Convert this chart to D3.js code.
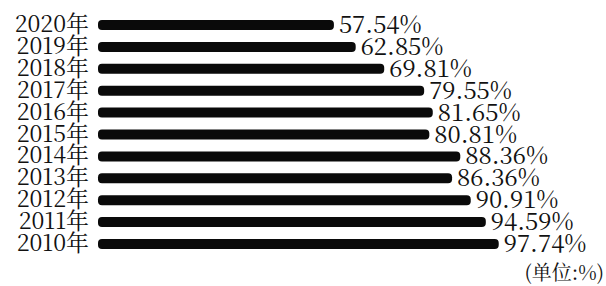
<!DOCTYPE html>
<html>
<head>
<meta charset="UTF-8">
<script src="https://d3js.org/d3.v7.min.js"></script>
</head>
<body style="margin:0">
<svg id="chart" width="606" height="286"></svg>
<script>
  // 年份 (从上到下) 与对应百分比
  const years = ["2020年", "2019年", "2018年", "2017年", "2016年", "2015年",
                 "2014年", "2013年", "2012年", "2011年", "2010年"];
  const values = [57.54, 62.85, 69.81, 79.55, 81.65, 80.81,
                  88.36, 86.36, 90.91, 94.59, 97.74];
  const unitLabel = "(单位:%)";

  const FONT = '"Noto Serif CJK SC", "Liberation Serif", serif';
  const data = years.map((y, i) => ({ year: y, value: values[i] }));

  const svg = d3.select("#chart");
  const x = d3.scaleLinear().domain([0, 100]).range([98, 508]);
  const y = d3.scalePoint().domain(years).range([25, 244]);
  const barH = 10;

  svg.append("g").selectAll("rect").data(data).join("rect")
    .attr("x", x(0))
    .attr("y", d => y(d.year) - barH / 2)
    .attr("width", d => x(d.value) - x(0))
    .attr("height", barH)
    .attr("rx", 4)
    .attr("fill", "#0a0a0a");

  // 年份标签
  svg.append("g").selectAll("text").data(data).join("text")
    .attr("x", 89)
    .attr("y", d => y(d.year) + 7)
    .attr("text-anchor", "end")
    .attr("font-size", 23)
    .attr("font-family", FONT)
    .style("font-family", FONT)
    .attr("fill", "#111")
    .text(d => d.year);

  // 数值标签
  svg.append("g").selectAll("text").data(data).join("text")
    .attr("x", d => x(d.value) + 5)
    .attr("y", d => y(d.year) + 8)
    .attr("font-size", 24)
    .attr("font-family", FONT)
    .style("font-family", FONT)
    .attr("fill", "#111")
    .text(d => d.value.toFixed(2) + "%");

  svg.append("text")
    .attr("x", 604)
    .attr("y", 280)
    .attr("text-anchor", "end")
    .attr("font-size", 20)
    .attr("font-family", FONT)
    .style("font-family", FONT)
    .attr("fill", "#111")
    .text(unitLabel);
</script>
</body>
</html>
